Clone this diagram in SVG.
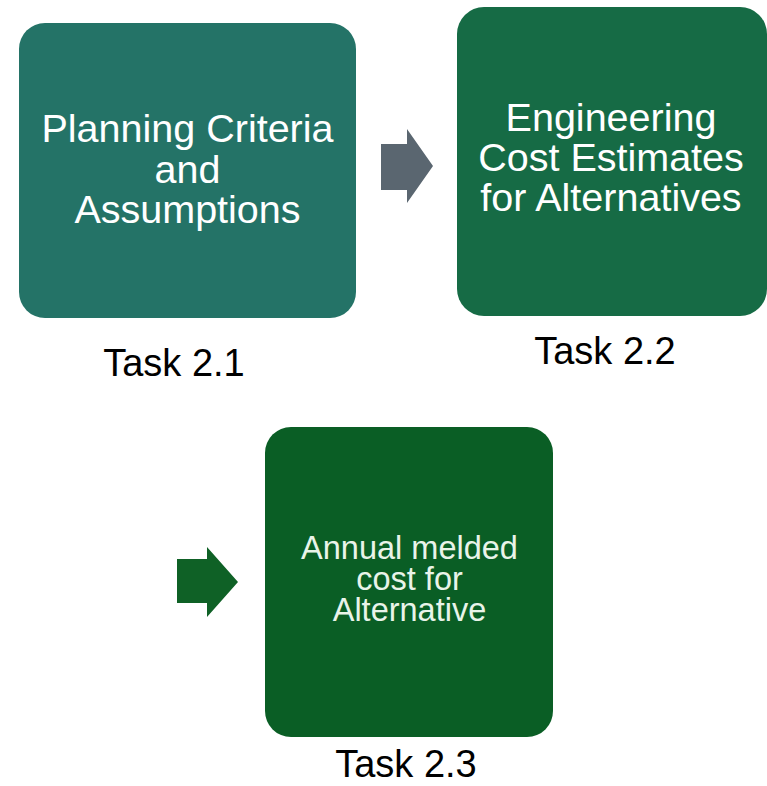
<svg xmlns="http://www.w3.org/2000/svg" width="767" height="786" viewBox="0 0 767 786">
  <style>
    .box-text { font-family: "Liberation Sans", Arial, sans-serif; text-anchor: middle; fill: #ffffff; }
    .big { font-size: 39.5px; }
    .small { font-size: 32.5px; fill: #e9f4e9; }
    .task { font-family: "Liberation Sans", Arial, sans-serif; font-size: 38px; text-anchor: middle; fill: #000000; }
  </style>
  <rect width="767" height="786" fill="#ffffff"/>

  <g id="task-2-1">
    <rect x="19" y="23" width="337" height="295" rx="26" ry="26" fill="#247367"/>
    <text class="box-text big" x="187.5" y="142">Planning Criteria</text>
    <text class="box-text big" x="187.5" y="182.5">and</text>
    <text class="box-text big" x="187.5" y="222.5">Assumptions</text>
    <text class="task" x="174" y="376">Task 2.1</text>
  </g>

  <g id="task-2-2">
    <rect x="457" y="7" width="310" height="309" rx="27" ry="27" fill="#166b45"/>
    <text class="box-text big" x="611" y="131">Engineering</text>
    <text class="box-text big" x="611" y="171">Cost Estimates</text>
    <text class="box-text big" x="611" y="211">for Alternatives</text>
    <text class="task" x="605" y="364">Task 2.2</text>
  </g>

  <g id="task-2-3">
    <rect x="265" y="427" width="288" height="310" rx="26" ry="26" fill="#0a5e25"/>
    <text class="box-text small" x="409.5" y="559">Annual melded</text>
    <text class="box-text small" x="409.5" y="590">cost for</text>
    <text class="box-text small" x="409.5" y="620.5">Alternative</text>
    <text class="task" x="406" y="777">Task 2.3</text>
  </g>

  <g id="connectors">
    <polygon points="381,144 407,144 407,129 433,166 407,203 407,190 381,190" fill="#5a6670"/>
    <polygon points="177,559 207,559 207,547 238,582 207,617 207,603 177,603" fill="#0f6126"/>
  </g>
</svg>
